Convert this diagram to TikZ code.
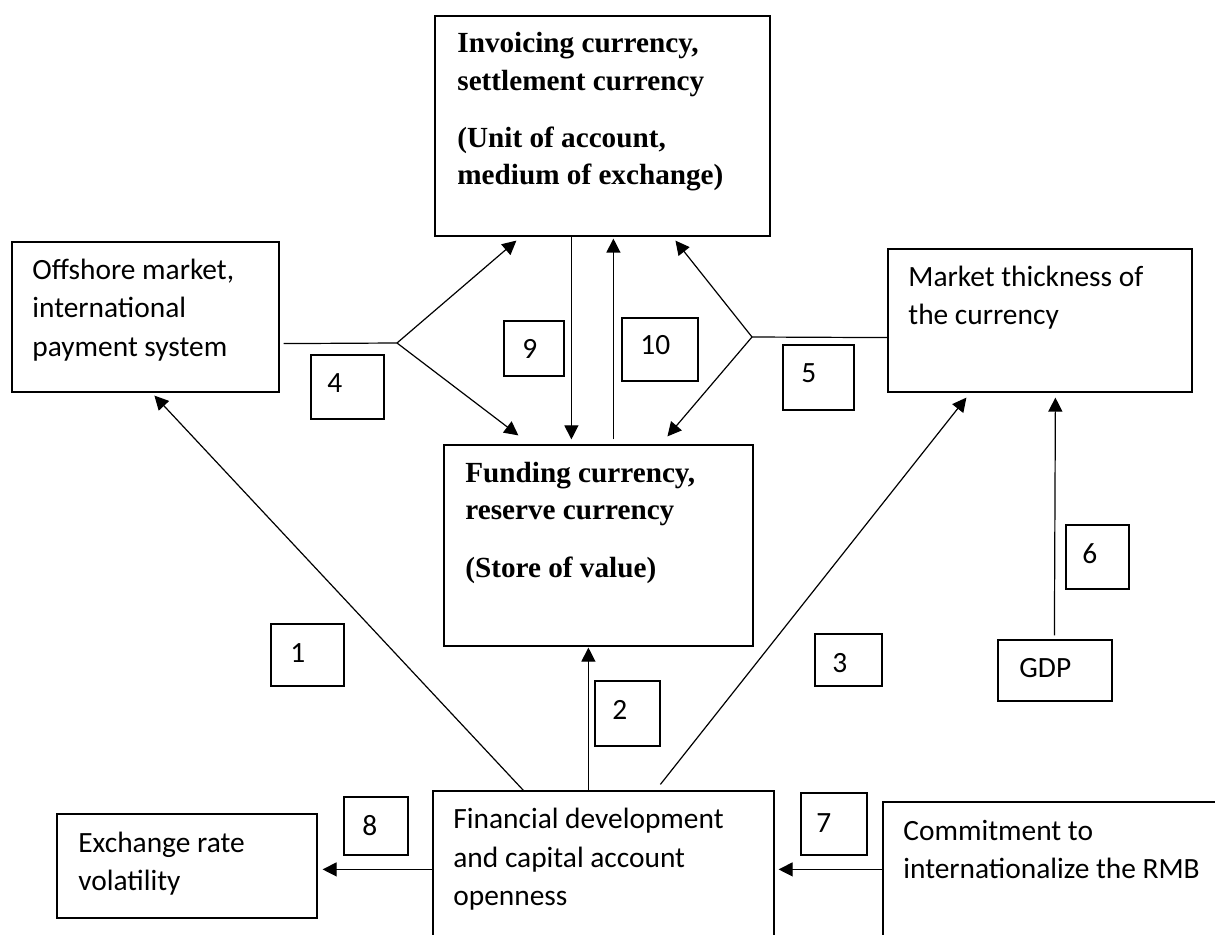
\documentclass[tikz,border=0pt]{standalone}
\usepackage{fontspec}
\setmainfont{Liberation Serif}
\newfontfamily\calfont{Carlito}
\usetikzlibrary{arrows.meta,fit,calc}
\begin{document}
\begin{tikzpicture}[x=0.5pt,y=-0.5pt,
  box/.style={draw, line width=0.6pt, inner sep=0pt, fit={#1}},
  txt/.style={anchor=base west, inner sep=0pt, font=\calfont\fontsize{14.7}{17}\selectfont},
  btxt/.style={anchor=base west, inner sep=0pt, font=\bfseries\fontsize{14.6}{17}\selectfont},
  arr/.style={-{Triangle[length=7pt,width=7pt]}, line width=0.6pt},
  ln/.style={line width=0.6pt}]
\useasboundingbox (0,0) rectangle (1215,935);
\fill[white] (0,0) rectangle (1215,935);
\clip (0,0) rectangle (1215,935);

% main boxes
\node[box={(435,16) (770,236)}] (top) {};
\node[box={(12,242) (279,392)}] (off) {};
\node[box={(888,249) (1192,392)}] (mkt) {};
\node[box={(444,445) (753,646)}] (fund) {};
\node[box={(433,791) (774,970)}] (fin) {};
\node[box={(883,802) (1250,970)}] (com) {};
\node[box={(57,814) (317,918)}] (exch) {};
\node[box={(998,640) (1112,701)}] (gdp) {};

% number boxes
\node[box={(271,624) (344,686)}] (n1) {};
\node[box={(595,681) (660,746)}] (n2) {};
\node[box={(815,634) (882,686)}] (n3) {};
\node[box={(311,355) (384,419)}] (n4) {};
\node[box={(783,345) (854,410)}] (n5) {};
\node[box={(1066,525) (1129,589)}] (n6) {};
\node[box={(801,793) (867,855)}] (n7) {};
\node[box={(344,797) (408,855)}] (n8) {};
\node[box={(504,321) (564,376)}] (n9) {};
\node[box={(622,318) (698,381)}] (n10) {};

% number labels
\node[txt] (l1) at (290,662) {1};
\node[txt] (l2) at (612,719) {2};
\node[txt] (l3) at (832,672) {3};
\node[txt] (l4) at (327,393) {4};
\node[txt] (l5) at (801,383) {5};
\node[txt] (l6) at (1082,563) {6};
\node[txt] (l7) at (816,832) {7};
\node[txt] (l8) at (362,835) {8};
\node[txt] (l9) at (522,359) {9};
\node[txt] (l10) at (640,355) {10};

% texts
\node[btxt] (ta) at (457,53) {Invoicing currency,};
\node[btxt] (tb) at (457,91) {settlement currency};
\node[btxt] (tc) at (457,148) {(Unit of account,};
\node[btxt] (td) at (457,185) {medium of exchange)};

\node[btxt] (fa) at (465,482) {Funding currency,};
\node[btxt] (fb) at (465,519) {reserve currency};
\node[btxt] (fc) at (465,577) {(Store of value)};

\node[txt] (oa) at (32,280) {Offshore market,};
\node[txt] (ob) at (32,318) {international};
\node[txt] (oc) at (32,357) {payment system};

\node[txt] (ma) at (908,287) {Market thickness of};
\node[txt] (mb) at (908,325) {the currency};

\node[txt] (ea) at (78,852) {Exchange rate};
\node[txt] (eb) at (78,890) {volatility};

\node[txt] (ia) at (453,828) {Financial development};
\node[txt] (ib) at (453,867) {and capital account};
\node[txt] (ic) at (453,905) {openness};

\node[txt] (ca) at (903,840) {Commitment to};
\node[txt] (cb) at (903,878) {internationalize the RMB};

\node[txt] (ga) at (1019,677) {GDP};

% vertices of the forks
\coordinate (v4) at (397,343);
\coordinate (v5) at (752,337);

% connectors
\draw[arr] ($(fin.north west)+(91,0)$) -- ($(off.south west)+(143,3)$);
\draw[arr] ($(fin.north west)+(156,0)$) -- ($(fund.south west)+(145,1)$);
\draw[arr] ($(fin.north west)+(228,-6)$) -- ($(mkt.south west)+(79,5)$);

\draw[ln] ($(off.south east)+(4,-49)$) -- (v4);
\draw[arr] (v4) -- ($(top.south west)+(82,4)$);
\draw[arr] (v4) -- ($(fund.north west)+(75,-9)$);

\draw[ln] ($(mkt.south west)+(0,-55)$) -- (v5);
\draw[arr] (v5) -- ($(top.south west)+(241,4)$);
\draw[arr] (v5) -- ($(fund.north west)+(224,-8)$);

\draw[arr] ($(top.south west)+(137,0)$) -- ($(fund.north west)+(128,-5)$);
\draw[arr] ($(fund.north west)+(170,-5)$) -- ($(top.south west)+(179,2)$);

\draw[arr] ($(gdp.north west)+(57,-4)$) -- ($(mkt.south west)+(168,5)$);
\draw[arr] ($(com.north west)+(0,68)$) -- ($(fin.north east)+(4,79)$);
\draw[arr] ($(fin.north west)+(0,79)$) -- ($(exch.north east)+(5,56)$);
\end{tikzpicture}
\end{document}
